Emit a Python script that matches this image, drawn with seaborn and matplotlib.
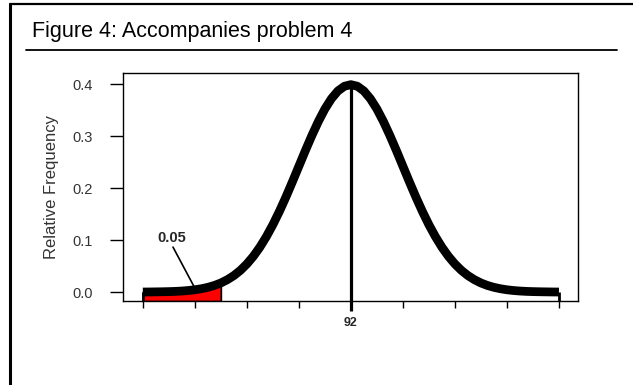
#!/usr/bin/env python3
"""
Figure 4 - normal curve with shaded lower tail (accompanies problem 4).

Output: out.png
"""

import matplotlib.pyplot as plt
from matplotlib.lines import Line2D
import seaborn as sns
import pandas as pd

# values
x_values = [88.0, 88.125, 88.25, 88.375, 88.5, 88.625, 88.75, 88.875,
            89.0, 89.125, 89.25, 89.375, 89.5, 89.625, 89.75, 89.875,
            90.0, 90.125, 90.25, 90.375, 90.5, 90.625, 90.75, 90.875,
            91.0, 91.125, 91.25, 91.375, 91.5, 91.625, 91.75, 91.875,
            92.0,
            92.125, 92.25, 92.375, 92.5, 92.625, 92.75, 92.875, 93.0,
            93.125, 93.25, 93.375, 93.5, 93.625, 93.75, 93.875, 94.0,
            94.125, 94.25, 94.375, 94.5, 94.625, 94.75, 94.875, 95.0,
            95.125, 95.25, 95.375, 95.5, 95.625, 95.75, 95.875, 96.0]
rel_freq = [0.0001, 0.0002, 0.0004, 0.0006, 0.0009, 0.0013, 0.0020, 0.0030,
            0.0044, 0.0064, 0.0091, 0.0127, 0.0175, 0.0238, 0.0317, 0.0417,
            0.0540, 0.0688, 0.0863, 0.1066, 0.1295, 0.1550, 0.1826, 0.2119,
            0.2420, 0.2721, 0.3011, 0.3281, 0.3521, 0.3718, 0.3867, 0.3958,
            0.3989,
            0.3958, 0.3867, 0.3718, 0.3521, 0.3281, 0.3011, 0.2721, 0.2420,
            0.2119, 0.1826, 0.1550, 0.1295, 0.1066, 0.0863, 0.0688, 0.0540,
            0.0417, 0.0317, 0.0238, 0.0175, 0.0127, 0.0091, 0.0064, 0.0044,
            0.0030, 0.0020, 0.0013, 0.0009, 0.0006, 0.0004, 0.0002, 0.0001]
mean_value = 92
tail_end = 89.5
tail_label = '0.05'
x_ticks = [88, 89, 90, 91, 92, 93, 94, 95, 96]
x_tick_labels = ['', '', '', '', '92', '', '', '', '']
y_ticks = [0.0, 0.1, 0.2, 0.3, 0.4]

sns.set_style("white")
plt.rcParams['font.family'] = ['Liberation Sans', 'DejaVu Sans']

curve = pd.DataFrame({'x': x_values, 'y': rel_freq})
tail = curve[curve['x'] <= tail_end]

fig = plt.figure(figsize=(6.33, 3.85), dpi=100)
ax = fig.add_axes([0.194, 0.218, 0.719, 0.592])

y_bottom = -0.0173
ax.set_xlim(87.615, 96.365)
ax.set_ylim(y_bottom, 0.421)

# red lower tail
ax.fill_between(tail['x'], y_bottom, tail['y'], color='#ff0000',
                edgecolor='black', linewidth=1.2, zorder=2)

# thick density curve with closed ends
sns.lineplot(data=curve, x='x', y='y', ax=ax, color='black', linewidth=6.3,
             solid_capstyle='butt', solid_joinstyle='round', zorder=3)
ax.vlines([x_values[0], x_values[-1]], y_bottom, [rel_freq[0], rel_freq[-1]],
          color='black', linewidth=2, zorder=3)

# mean line, running through the axis like a long tick
ax.vlines(mean_value, -0.0365, max(rel_freq), color='black', linewidth=2.3,
          zorder=4, clip_on=False)

# tail annotation
ax.plot([88.58, 89.0], [0.0865, 0.0077], color='black', linewidth=1.2, zorder=5)
ax.text(88.56, 0.104, tail_label, ha='center', va='center', fontsize=10.5,
        fontweight='bold', zorder=5)

ax.set_xticks(x_ticks)
ax.set_xticklabels(x_tick_labels, fontsize=9, fontweight='bold')
ax.set_yticks(y_ticks)
ax.set_yticklabels([f'{v:.1f}' for v in y_ticks], fontsize=10.5, color='#333333')
ax.tick_params(axis='x', direction='out', length=5, width=1, color='black', pad=6.5,
               bottom=True)
ax.tick_params(axis='y', direction='out', length=9.5, width=1, color='black', pad=12,
               left=True)
ax.set_xlabel('')
ax.set_ylabel('Relative Frequency', fontsize=12, color='#333333', labelpad=10)
for spine in ax.spines.values():
    spine.set_visible(True)
    spine.set_color('black')
    spine.set_linewidth(1)

# page decoration: border, title, rule
fig.text(32 / 633, 1 - 37 / 385, 'Figure 4: Accompanies problem 4',
         fontsize=15.5, va='baseline', ha='left', color='black')
fig.add_artist(Line2D([26 / 633, 617 / 633], [1 - 49.5 / 385] * 2,
                      transform=fig.transFigure, color='black', linewidth=1.3))
fig.add_artist(Line2D([10 / 633, 10 / 633], [0, 1 - 4 / 385],
                      transform=fig.transFigure, color='black', linewidth=2.2))
fig.add_artist(Line2D([10 / 633, 1], [1 - 4 / 385] * 2,
                      transform=fig.transFigure, color='black', linewidth=1.6))

fig.savefig('out.png', dpi=100)
plt.close(fig)
